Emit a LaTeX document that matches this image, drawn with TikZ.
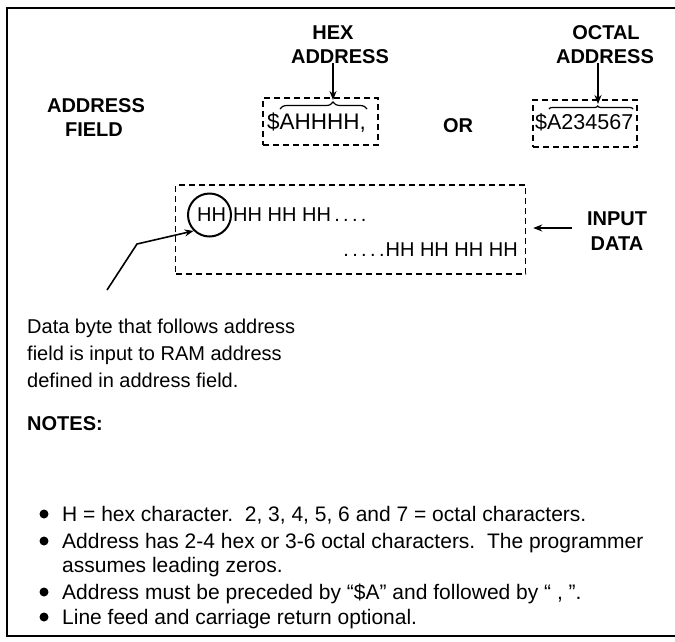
\documentclass[tikz,border=0pt]{standalone}
\usepackage{fontspec}
\setmainfont{Liberation Sans}
\usetikzlibrary{arrows.meta,decorations.pathreplacing}
\begin{document}
\begin{tikzpicture}[x=1pt,y=-1pt,
  lbl/.style={font=\fontsize{20}{24}\selectfont\bfseries, inner sep=0pt, anchor=base},
  body/.style={font=\fontsize{20}{24}\selectfont, inner sep=0pt, anchor=base west},
  note/.style={font=\fontsize{21}{25}\selectfont, inner sep=0pt, anchor=base west},
  dbox/.style={draw, line width=1.4pt, dash pattern=on 6pt off 4pt, inner sep=0pt},
  arr/.style={-{Stealth[length=9pt,width=7pt]}, line width=1.6pt},
  framestyle/.style={line width=2.5pt},
  bracestyle/.style={decorate, line width=1.2pt},
  bul/.style={circle, fill, inner sep=0pt, minimum size=9pt}]
\useasboundingbox (0,0) rectangle (675,641);
\fill[white] (0,0) rectangle (675,641);
% frame
\coordinate (ftr) at (690,8);
\coordinate (ftl) at (7,8);
\coordinate (fbl) at (7,636);
\coordinate (fbr) at (690,636);
\draw[framestyle] (ftr) -- (ftl) -- (fbl) -- (fbr);
% address field label
\node[lbl] (af1) at (96,112) {ADDRESS};
\node[lbl] (af2) at (94,136) {FIELD};
% hex address
\node[lbl] (hex1) at (333,39) {HEX};
\node[lbl] (hex2) at (340,63) {ADDRESS};
\node[dbox, minimum width=115pt, minimum height=47pt] (hexbox) at (320.5,121.5) {};
\node[body, font=\fontsize{22.5}{26}\selectfont] (hexval) at (267,129) {\$AHHHH,};
\coordinate (hb1) at (280,109);
\coordinate (hb2) at (367,109);
\draw[bracestyle, decoration={brace, amplitude=7pt, aspect=0.61}] (hb1) -- (hb2);
\coordinate (htip) at (333,100);
\draw[arr] (hex2.south -| htip) -- (htip);
% or
\node[lbl] (or) at (458,132) {OR};
% octal address
\node[lbl] (oct1) at (606,39) {OCTAL};
\node[lbl] (oct2) at (605,63) {ADDRESS};
\node[dbox, minimum width=104pt, minimum height=47pt] (octbox) at (585,123.5) {};
\node[body, font=\fontsize{21.5}{26}\selectfont] (octval) at (535,129) {\$A234567};
\coordinate (ob1) at (549,109);
\coordinate (ob2) at (633,109);
\draw[bracestyle, decoration={brace, amplitude=3pt, aspect=0.58}] (ob1) -- (ob2);
\coordinate (otip) at (598,104);
\draw[arr] (oct2.south -| otip) -- (otip);
% input data
\node[dbox, minimum width=350pt, minimum height=89pt] (databox) at (350.5,229.5) {};
\node[body] (hh1) at (197,221) {HH};
\node[body] (row1) at (233,221) {HH HH HH\,.\,.\,.\,.};
\node[body, anchor=base east] (row2) at (518,256) {.\,.\,.\,.\,.\kern1pt HH HH HH HH};
\node[draw, circle, line width=2pt, minimum size=43pt, inner sep=0pt] (circ) at (209.5,215) {};
\coordinate (p0) at (107,290);
\coordinate (p1) at (137,244);
\draw[arr] (p0) -- (p1) -- (circ.225);
\node[lbl] (in1) at (617,225) {INPUT};
\node[lbl] (in2) at (617,250) {DATA};
\coordinate (inarr) at (572,228);
\draw[arr, shorten >=7pt] (inarr) -- (inarr -| databox.east);
% explanation
\node[body] (d1) at (27,333) {Data byte that follows address};
\node[body] (d2) at (27,360) {field is input to RAM address};
\node[body] (d3) at (27,387) {defined in address field.};
\node[lbl, anchor=base west] (notes) at (27,430) {NOTES:};
% notes
\node[bul] (b1) at (44,514) {};
\node[note] (n1) at (62,521) {H = hex character.\ \ 2, 3, 4, 5, 6 and 7 = octal characters.};
\node[bul] (b2) at (44,541) {};
\node[note] (n2) at (62,548) {Address has 2-4 hex or 3-6 octal characters.\ \ The programmer};
\node[note] (n2b) at (62,572) {assumes leading zeros.};
\node[bul] (b3) at (44,592) {};
\node[note] (n3) at (62,599) {Address must be preceded by ``\$A'' and followed by ``\ ,\ ''.};
\node[bul] (b4) at (44,617) {};
\node[note] (n4) at (62,624) {Line feed and carriage return optional.};
\end{tikzpicture}
\end{document}
